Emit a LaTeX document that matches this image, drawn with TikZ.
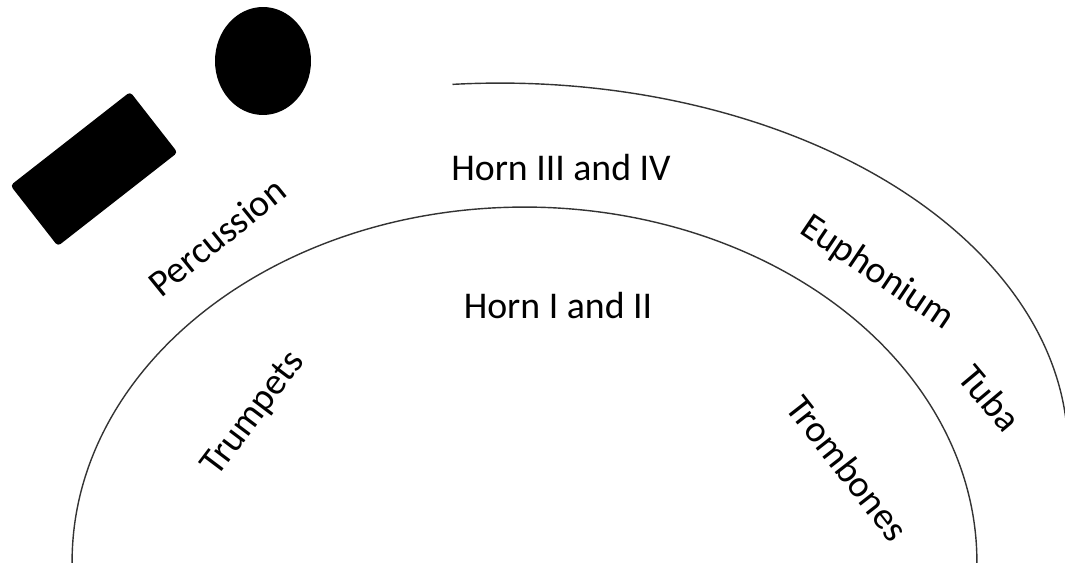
\documentclass[tikz,border=0pt]{standalone}
\usepackage{fontspec}
\setmainfont{Carlito}
\usepackage{tikz}
\usetikzlibrary{shapes.geometric}

\begin{document}
\begin{tikzpicture}[x=0.02cm, y=0.02cm,
		part/.style={font=\fontsize{21.5}{26}\selectfont, text=black, inner sep=0pt},
		row/.style={draw=black!80, line width=0.8pt}]
		\useasboundingbox (0,0) rectangle (1065,562);
		\draw[row] (524.5,0) ++(181:9.05cm and 7.1cm) arc[start angle=181, end angle=-1, x radius=9.05cm, y radius=7.1cm];
		\draw[row] (500,112) ++(94.8:11.36cm and 7.34cm) arc[start angle=94.8, end angle=-3, x radius=11.36cm, y radius=7.34cm];
		\node[fill=black, rotate=38, minimum width=3.04cm, minimum height=1.54cm, rounded corners=2pt] (drum) at (94,393) {};
		\node[ellipse, fill=black, inner sep=0pt, minimum width=1.92cm, minimum height=2.16cm] (timpani) at (263,501) {};
		\node[part] (horns34) at (561,394.5) {Horn III and IV};
		\node[part] (horns12) at (558,256.5) {Horn I and II};
		\node[part, rotate=39] (perc) at (217,325) {Percussion};
		\node[part, rotate=53] (tpt) at (254,148) {Trumpets};
		\node[part, rotate=-34] (euph) at (877,289) {Euphonium};
		\node[part, rotate=-50] (tuba) at (990,164) {Tuba};
		\node[part, rotate=-52] (tbn) at (848,94) {Trombones};
	\end{tikzpicture}
\end{document}
